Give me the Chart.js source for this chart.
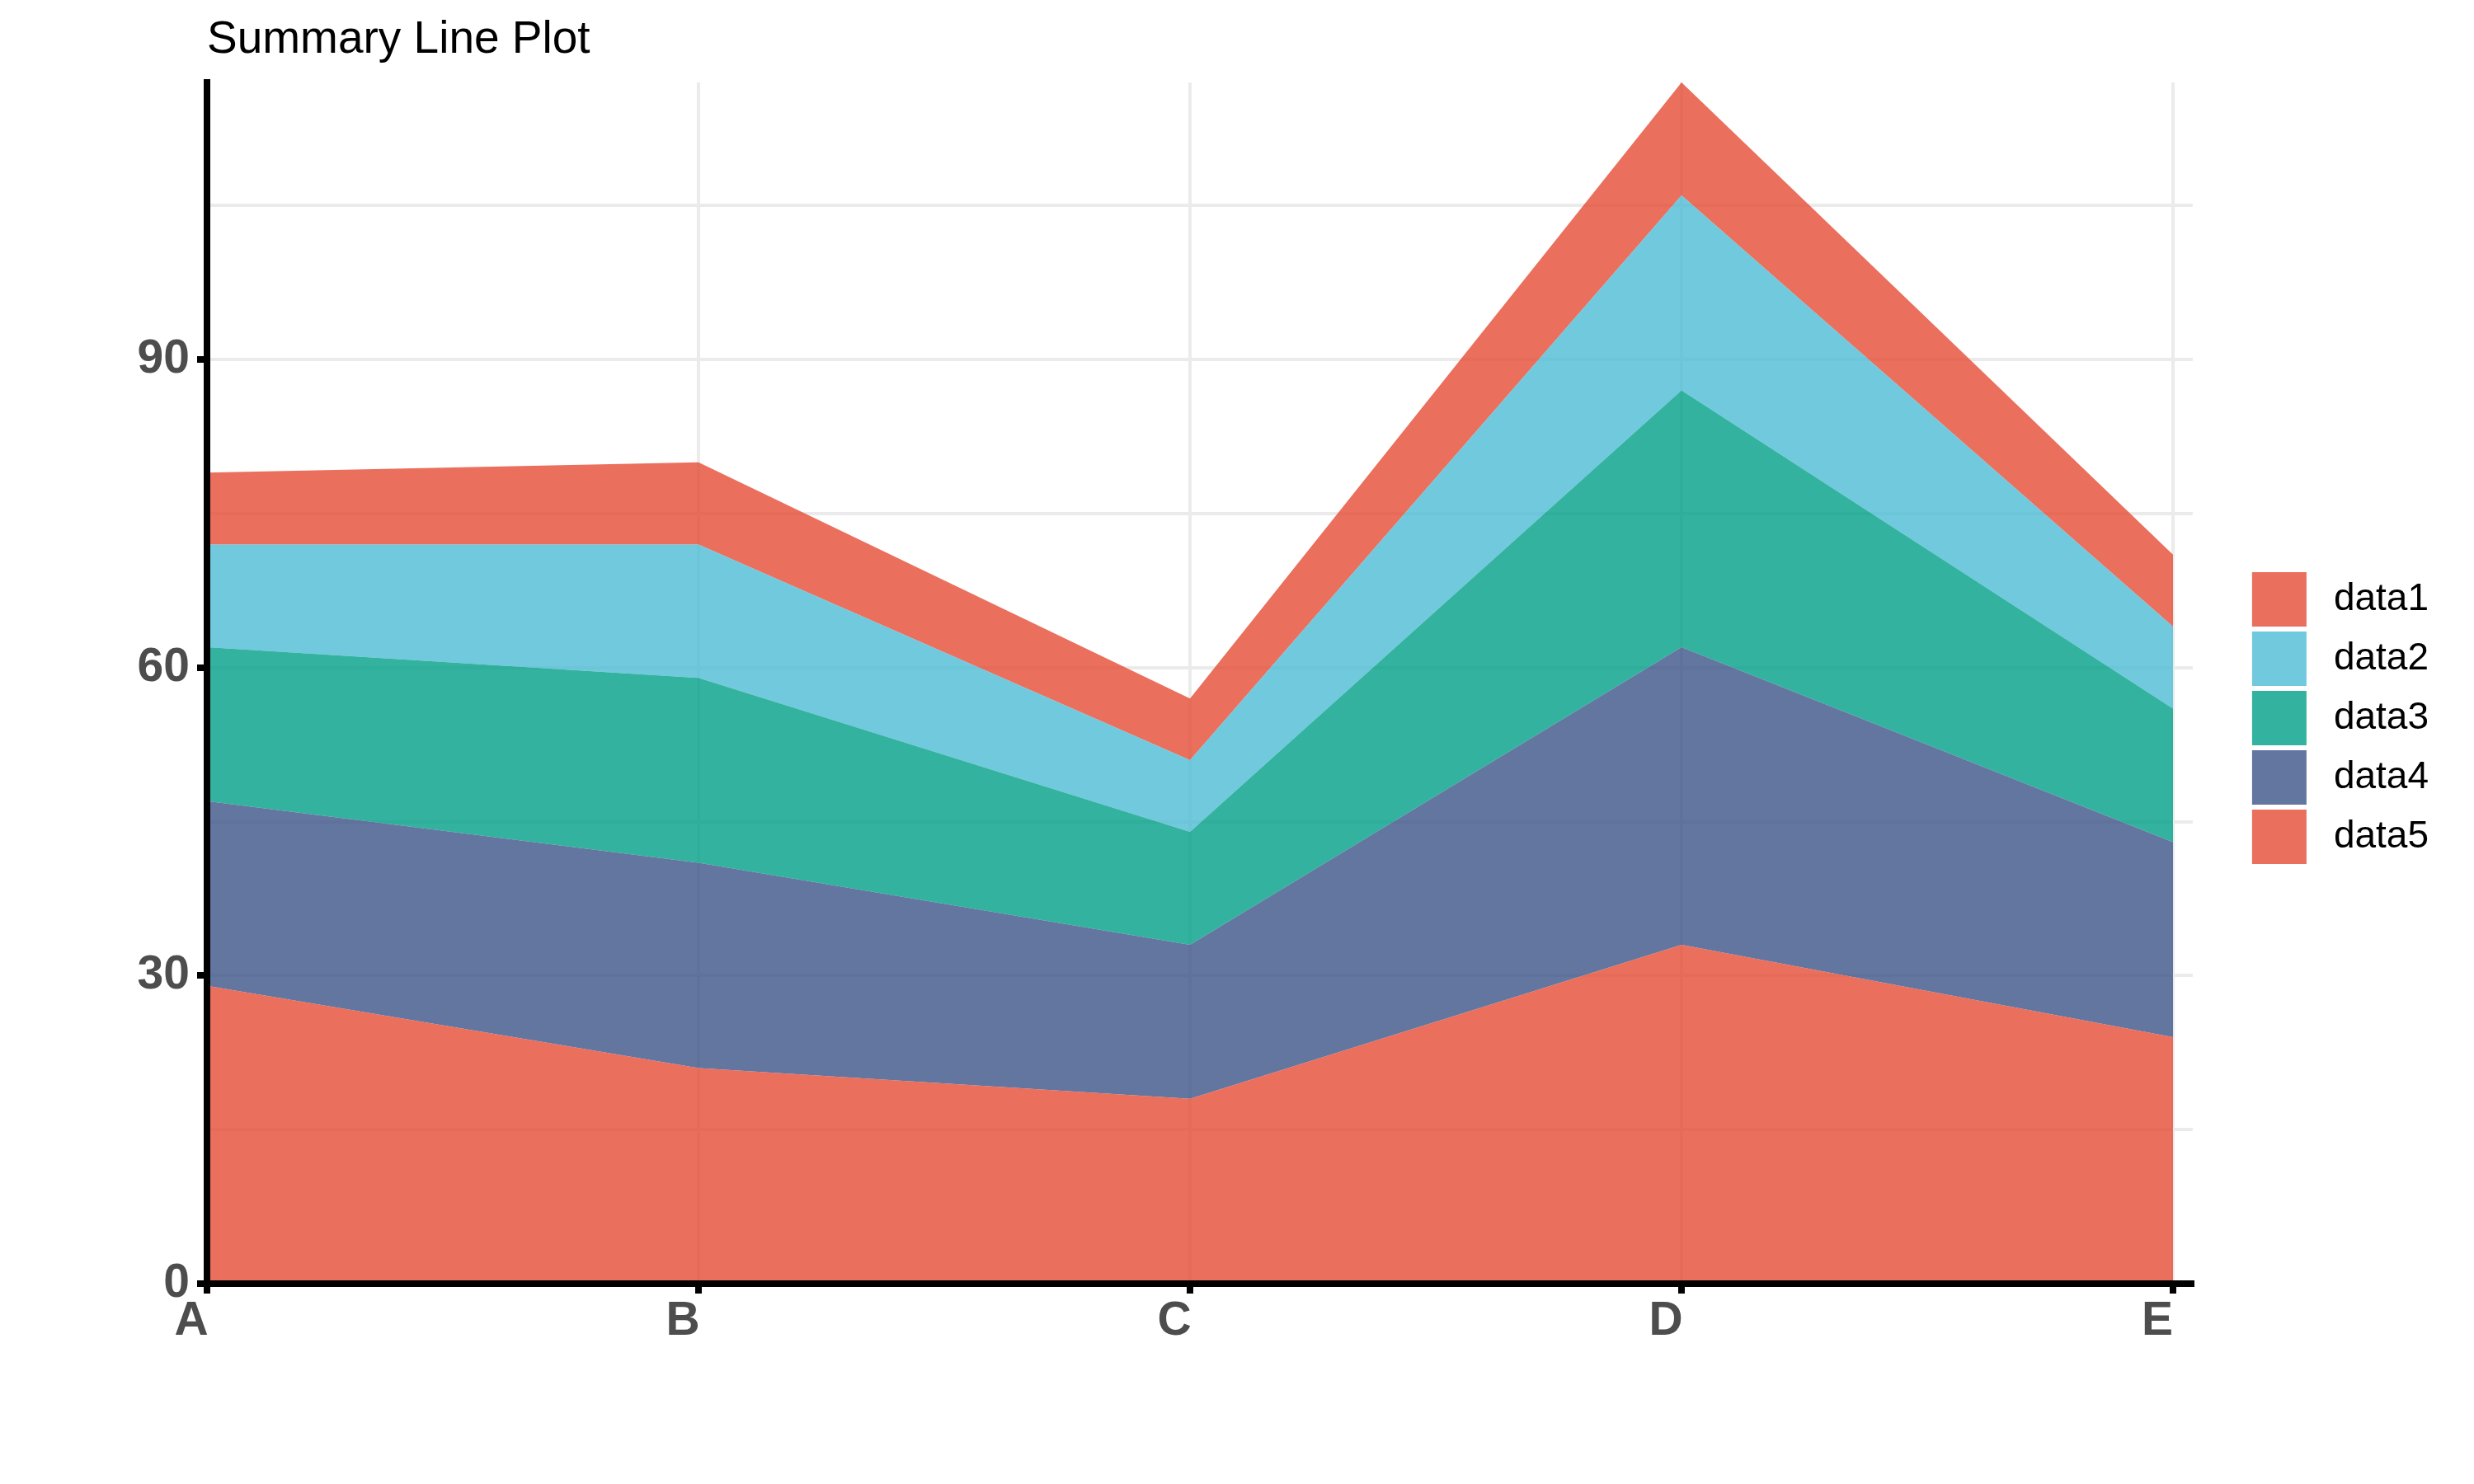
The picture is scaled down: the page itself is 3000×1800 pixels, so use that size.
<!DOCTYPE html>
<html>
<head>
<meta charset="utf-8">
<script src="https://cdn.jsdelivr.net/npm/chart.js@4.4.1/dist/chart.umd.min.js"></script>
<style>
  body { margin: 0; background: #fff; }
</style>
</head>
<body>
<canvas id="grafico" width="3000" height="1800"></canvas>
<script>
// categorias e séries
const categorias = ["A", "B", "C", "D", "E"];
const data1 = [7, 8, 6, 11, 7];
const data2 = [10, 13, 7, 19, 8];
const data3 = [15, 18, 11, 25, 13];
const data4 = [18, 20, 15, 29, 19];
const data5 = [29, 21, 18, 33, 24];
const rotulosY = [0, 30, 60, 90];

const fonte = "'Liberation Sans', Arial, Helvetica, sans-serif";

function serie(nome, valores, cor, preenchimento) {
  return {
    label: nome,
    data: valores.map((v, i) => ({ x: i, y: v })),
    backgroundColor: cor,
    borderColor: cor,
    borderWidth: 0,
    pointRadius: 0,
    tension: 0,
    fill: preenchimento
  };
}

const ctx = document.getElementById("grafico").getContext("2d");

new Chart(ctx, {
  type: "line",
  data: {
    // empilhado de baixo pra cima: data5 embaixo
    datasets: [
      serie("data5", data5, "rgba(230,75,53,0.8)", "origin"),
      serie("data4", data4, "rgba(60,84,136,0.8)", "-1"),
      serie("data3", data3, "rgba(0,160,135,0.8)", "-1"),
      serie("data2", data2, "rgba(77,187,213,0.8)", "-1"),
      serie("data1", data1, "rgba(230,75,53,0.8)", "-1")
    ]
  },
  options: {
    responsive: false,
    animation: false,
    layout: { padding: { left: 167, right: 55, top: 0, bottom: 58 } },
    plugins: {
      title: {
        display: true,
        text: "Summary Line Plot",
        align: "start",
        fullSize: false,
        color: "#000",
        font: { family: fonte, size: 55, weight: "normal" },
        padding: { top: 16, bottom: 18 }
      },
      legend: {
        position: "right",
        reverse: true,
        labels: {
          boxWidth: 66,
          boxHeight: 66,
          padding: 6,
          textAlign: "right",
          color: "#000",
          font: { family: fonte, size: 46 }
        }
      },
      tooltip: { enabled: false }
    },
    scales: {
      x: {
        type: "linear",
        min: 0,
        max: 4.04,
        afterFit: (s) => { s.height = 185; },
        grid: {
          color: "#ebebeb",
          lineWidth: 4,
          tickColor: "#000",
          tickWidth: 8,
          tickLength: 12
        },
        border: { display: true, color: "#000", width: 8, z: 1 },
        ticks: {
          stepSize: 1,
          includeBounds: false,
          labelOffset: -19,
          padding: 0,
          color: "#4d4d4d",
          font: { family: fonte, size: 57, weight: "bold" },
          callback: (v) => categorias[v] ?? ""
        }
      },
      y: {
        stacked: true,
        min: 0,
        max: 117,
        afterFit: (s) => { s.width = 84; },
        grid: {
          color: "#ebebeb",
          lineWidth: 4,
          tickColor: (c) => (c.tick && rotulosY.includes(c.tick.value)) ? "#000" : "rgba(0,0,0,0)",
          tickWidth: 8,
          tickLength: 12
        },
        border: { display: true, color: "#000", width: 8, z: 1 },
        ticks: {
          stepSize: 15,
          includeBounds: false,
          padding: 9,
          color: "#4d4d4d",
          font: { family: fonte, size: 57, weight: "bold" },
          callback: (v) => rotulosY.includes(v) ? String(v) : ""
        }
      },
      // eixo vazio só pra abrir espaço entre o gráfico e a legenda
      y2: {
        position: "right",
        display: true,
        afterFit: (s) => { s.width = 66; },
        grid: { display: false },
        border: { display: false },
        ticks: { display: false }
      }
    }
  }
});
</script>
</body>
</html>
